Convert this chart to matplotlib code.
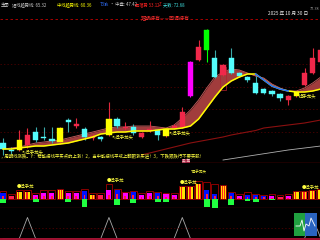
import matplotlib
matplotlib.use('Agg')
import matplotlib.pyplot as plt
from matplotlib.patches import Rectangle

plt.rcParams['font.family'] = ['Noto Sans CJK SC', 'DejaVu Sans']

# ---------------- data ----------------
opens  = [42.7, 42.0, 42.0, 42.5, 43.8, 43.3, 43.1, 42.8, 45.0, 44.4, 44.1, 43.2, 43.3, 43.5, 45.1, 44.2, 44.3, 43.3, 44.0, 44.0,
          43.4, 44.2, 44.3, 47.4, 51.0, 52.0, 51.2, 49.5, 51.2, 49.7, 49.3, 48.7, 48.1, 47.9, 47.6, 47.0, 47.4, 48.5, 49.7, 50.8]
closes = [42.1, 41.95, 43.0, 43.5, 43.0, 43.2, 42.9, 44.2, 44.8, 44.6, 43.3, 43.4, 43.1, 45.1, 44.4, 44.3, 43.7, 43.7, 44.1, 43.5,
          44.1, 44.4, 45.8, 50.8, 52.3, 54.0, 49.3, 50.5, 49.7, 49.4, 49.0, 47.7, 47.7, 47.6, 47.2, 47.4, 47.8, 49.7, 51.2, 52.0]
highs  = [43.2, 42.3, 44.0, 44.2, 44.3, 44.3, 44.3, 44.3, 45.2, 45.2, 44.3, 43.6, 43.4, 46.8, 45.3, 44.8, 44.6, 43.8, 44.9, 44.1,
          44.2, 44.6, 46.3, 50.9, 53.0, 54.1, 52.0, 50.6, 52.2, 49.8, 49.4, 49.4, 48.2, 48.0, 47.7, 47.5, 47.9, 50.2, 52.2, 52.5]
lows   = [41.5, 41.6, 41.9, 42.2, 42.8, 43.0, 42.7, 42.6, 43.8, 44.2, 43.0, 43.0, 42.9, 43.4, 44.2, 44.0, 43.5, 43.2, 43.8, 43.0,
          43.3, 44.1, 44.2, 47.3, 50.9, 50.8, 49.2, 49.4, 49.6, 49.3, 48.8, 47.6, 47.6, 47.4, 46.9, 46.5, 47.3, 48.4, 49.6, 50.7]
kinds  = ['c', 'c', 'y', 'r', 'c', 'c', 'c', 'y', 'c', 'r', 'c', 'r', 'c', 'y', 'c', 'r', 'c', 'r', 'r', 'c',
          'y', 'r', 'r', 'm', 'r', 'g', 'c', 'r', 'c', 'c', 'c', 'c', 'c', 'c', 'c', 'r', 'y', 'r', 'r', 'r']

fast_line = [42.1, 42.1, 42.2, 42.3, 42.4, 42.4, 42.5, 42.6, 42.7, 42.9, 43.1, 43.3, 43.6, 43.7, 43.8, 43.8, 43.9, 43.9, 43.9, 44.0,
             44.1, 44.1, 44.2, 44.4, 45.1, 46.2, 47.3, 48.3, 48.9, 49.3, 49.6, 49.6, 49.0, 48.4, 48.1, 47.9, 47.8, 47.8, 47.9, 48.1]
band_top  = [42.1, 42.2, 42.3, 42.5, 42.7, 42.8, 42.9, 43.0, 43.2, 43.4, 43.6, 43.8, 44.0, 44.2, 44.3, 44.3, 44.4, 44.4, 44.4, 44.3,
             44.2, 44.5, 45.2, 46.0, 47.0, 48.2, 49.3, 49.8, 50.1, 50.0, 49.7, 49.4, 49.2, 48.6, 48.2, 47.9, 47.9, 48.2, 48.7, 49.3]
blue_from, blue_to = 31, 35
slow_idx  = list(range(17, 40))
slow_line = [41.5, 41.7, 41.9, 42.1, 42.3, 42.5, 42.7, 42.85, 43.0, 43.15, 43.3, 43.5, 43.65, 43.8, 43.95, 44.2, 44.3, 44.4,
             44.5, 44.6, 44.7, 44.85, 45.0]
grey_idx  = [27, 29, 31, 33, 35, 37, 39]
grey_line = [41.0, 41.25, 41.5, 41.75, 42.0, 42.2, 42.4]
signal_idx = [2, 13, 20, 36]
signal_txt = ['↖操手龙头', '↖操手龙头', '↖操手龙头', '操手龙头']

vol_box  = [8, 5, 9, 9, 6, 9, 9, 10, 8, 8, 10, 6, 6, 15, 10, 7, 8, 6, 8, 7,
            6, 6, 13, 13, 18, 17, 15, 14, 7, 5, 7, 5, 4, 5, 4, 5, 8, 8, 9, 10]
vol_fill = [6, 3, 7, 7, 4, 6, 6, 9, 6, 6, 8, 4, 4, 9, 9, 6, 7, 4, 6, 6,
            5, 4, 12, 12, 15, 9, 5, 13, 6, 3, 4, 4, 3, 3, 2, 3, 7, 7, 8, 9]
vol_neg  = [-4, 0, 0, 0, -3, 0, 0, 0, -3, 0, -8, 0, 0, 0, -6, 0, -4, 0, 0, -3,
            -3, 0, 0, 0, 0, -8, -9, 0, -6, 0, -2, -3, 0, -1, 0, 0, 0, 0, 0, 0]
vol_kind = ['B', 'R', 'Y', 'Y', 'M', 'M', 'M', 'Y', 'M', 'M', 'B', 'Y', 'R', 'M', 'B', 'M', 'B', 'M', 'M', 'B',
            'M', 'M', 'Y', 'Y', 'Y', 'B', 'B', 'Y', 'B', 'M', 'B', 'B', 'B', 'M', 'R', 'M', 'Y', 'Y', 'Y', 'Y']
vol_lab_idx = [2, 13, 22, 37]

peak_idx = [3, 13, 22, 38]
peak_val = [1.0, 1.0, 1.0, 1.0]

# ---------------- figure ----------------
BG = 'black'
fig = plt.figure(figsize=(3.2, 2.4), dpi=100, facecolor=BG)
H = 240.0

def mk(top, bottom):
    a = fig.add_axes([0, 1 - bottom / H, 1, (bottom - top) / H])
    a.set_facecolor(BG)
    a.set_xticks([]); a.set_yticks([])
    for s in a.spines.values():
        s.set_visible(False)
    a.set_xlim(-0.37, 38.9)
    return a

ax1 = mk(0, 163)
ax1.set_ylim(40.7, 57.0)
ax2 = mk(163, 208)
ax2.set_ylim(-9, 36)
ax3 = mk(208, 240)
ax3.set_ylim(-0.07, 1.45)

n = len(opens)
xs = list(range(n))

# grid lines main
ax1.axhline(55.1, color='#c00000', lw=0.6, ls=(0, (3, 3)))
for g in [50.6, 48.3, 46.1, 43.8]:
    ax1.axhline(g, color='#5a0000', lw=0.5, ls=(0, (2, 3)))

# band
ax1.fill_between(xs, fast_line, band_top, color='#a13c3c', lw=0, zorder=2)
ax1.plot(xs, band_top, color='#c86060', lw=0.6, zorder=2)
ax1.plot(slow_idx, slow_line, color='#8a1010', lw=0.8, zorder=2)
ax1.plot(grey_idx, grey_line, color='#b0b0b0', lw=0.6, zorder=2)

# candles
body_col = {'c': '#54fcfc', 'r': '#f0284a', 'y': '#ffff00', 'm': '#ff00ff', 'g': '#00ff00'}
wick_col = {'c': '#3aa8a8', 'r': '#e0283c', 'y': '#e0283c', 'm': '#ff00ff', 'g': '#00ff00'}
for i in range(n):
    o, c, h, l, k = opens[i], closes[i], highs[i], lows[i], kinds[i]
    ax1.vlines(i, l, h, color=wick_col[k], lw=0.8, zorder=3)
    b = min(o, c)
    ht = max(abs(c - o), 0.08)
    ax1.add_patch(Rectangle((i - 0.32, b), 0.64, ht, facecolor=body_col[k],
                            edgecolor=body_col[k], lw=0.3, zorder=4))
ax1.add_patch(Rectangle((27 - 0.32, 48.0), 0.64, 2.3, facecolor='none', edgecolor='#b02030', lw=0.5, zorder=3))

# fast line yellow / blue
ax1.plot(xs, fast_line, color='#ffff00', lw=1.1, zorder=5)
ax1.plot(xs[blue_from:blue_to + 1], fast_line[blue_from:blue_to + 1], color='#1e6cff', lw=1.1, zorder=6)

# labels main
lab_kw = dict(color='#ffff40', fontsize=3.2, zorder=7)
for i, t in zip(signal_idx, signal_txt):
    ax1.text(i + 0.25, fast_line[i] - 0.35, t, ha='left', va='center', **lab_kw)
ax1.text(165 / 320, 1 - 19 / 163, '短期持有——回调持有', transform=ax1.transAxes, color='#ff3030',
         fontsize=3.6, ha='center', va='center')
ax1.text(0.0, 1 - 156.5 / 163,
         '，周期线涨跌。Y：若能拐线平买点的上涨！2，当中能拐线平或上翻跟涨买进！3，下跌跟跌行不要买股！',
         transform=ax1.transAxes, color='#ffff40', fontsize=3.2, ha='left', va='center', zorder=8)
ax1.text(186 / 320, 1 - 161 / 163, '卖 离', transform=ax1.transAxes, color='#ffd0d0', fontsize=2.6,
         ha='center', va='center', bbox=dict(facecolor='#a02040', edgecolor='none', pad=0.2), zorder=7)

# separators
ax1.axhline(40.7 + 0.03, color='#8b0000', lw=1.0)

# volume panel
for i in range(n):
    k = vol_kind[i]
    ax2.add_patch(Rectangle((i - 0.42, 0), 0.84, vol_box[i], facecolor='none', edgecolor='#8b0000', lw=0.7, zorder=2))
    f = vol_fill[i]
    if k == 'Y':
        ax2.bar(i, f, width=0.62, color='#ffe000', zorder=3)
        ax2.bar(i - 0.06, f, width=0.14, color='#ff2020', zorder=4)
        ax2.bar(i + 0.2, f, width=0.1, color='#ff2020', zorder=4)
    elif k == 'M':
        ax2.bar(i, f, width=0.62, color='#ff00ff', zorder=3)
        ax2.bar(i, f * 0.5, width=0.22, color='#ff2040', zorder=4)
    elif k == 'B':
        ax2.bar(i, f, width=0.62, color='#0010ff', zorder=3)
        ax2.bar(i, f * 0.55, width=0.22, color='#ff2040', zorder=4)
    else:
        ax2.bar(i, f, width=0.62, color='#ff2050', zorder=3)
    if vol_neg[i] < 0:
        ax2.bar(i, vol_neg[i], width=0.72, color='#20ff40', zorder=3)
vk = dict(color='#ffff40', fontsize=3.2, zorder=6)
for i in vol_lab_idx:
    ax2.text(i - 0.3, vol_box[i] + 0.8, '●操手龙', ha='left', va='bottom', **vk)
ax2.text(24, vol_box[24] + 6, '*操手龙头', ha='center', va='bottom', color='#ffff40', fontsize=2.6)
ax2.axhline(-9 + 0.2, color='#8b0000', lw=0.9)

# bottom panel
sig = [0.0] * n
for i, v in zip(peak_idx, peak_val):
    sig[i] = v
ax3.plot(xs, sig, color='#a8a8a8', lw=0.6, zorder=2)
ax3.axhline(0.52, color='#5a0000', lw=0.5, ls=(0, (2, 3)))
ax3.axhline(-0.03, color='#a01030', lw=1.4, zorder=3)
ax3.add_patch(Rectangle((294 / 320, 4 / 32), 11 / 320, 23 / 32, transform=ax3.transAxes,
                        facecolor='#20a040', edgecolor='none', zorder=5))
ax3.add_patch(Rectangle((305 / 320, 4 / 32), 12 / 320, 23 / 32, transform=ax3.transAxes,
                        facecolor='#2a64c0', edgecolor='none', zorder=5))
ax3.plot([296 / 320, 300 / 320, 302 / 320, 304 / 320, 306 / 320, 309 / 320, 311 / 320, 315 / 320],
         [14 / 32, 14 / 32, 20 / 32, 9 / 32, 16 / 32, 14 / 32, 22 / 32, 14 / 32],
         transform=ax3.transAxes, color='white', lw=0.6, zorder=6)

# header
hy = 1 - 5 / H
hk = dict(fontsize=3.1, va='center', ha='left')
fig.text(1 / 320, hy, '主图', color='#d0d0d0', **hk)
fig.text(12 / 320, hy, '短线趋势线: 65.32', color='#c8c8c8', **hk)
fig.text(57 / 320, hy, '中线趋势线: 60.36', color='#ffff00', **hk)
fig.text(100 / 320, hy, 'T3涨', color='#3070ff', **hk)
fig.text(110 / 320, hy, '· 中盘: 47.42', color='#c8c8c8', **hk)
fig.text(135 / 320, hy, '回落势 53.12', color='#ff2020', **hk)
fig.text(159 / 320, hy, 'Z', color='#ff2020', **hk)
fig.text(163 / 320, hy, '天数: 72.68', color='#40e0e0', **hk)
fig.text(268 / 320, 1 - 13 / H, '2025 年 10 月 30 日', color='#f0f0f0', fontsize=3.4, va='center', ha='left')
fig.text(319 / 320, 1 - 9 / H, '77.38', color='#a0a0a0', fontsize=2.8, va='center', ha='right')

fig.savefig('out.png', dpi=100, facecolor=BG)
